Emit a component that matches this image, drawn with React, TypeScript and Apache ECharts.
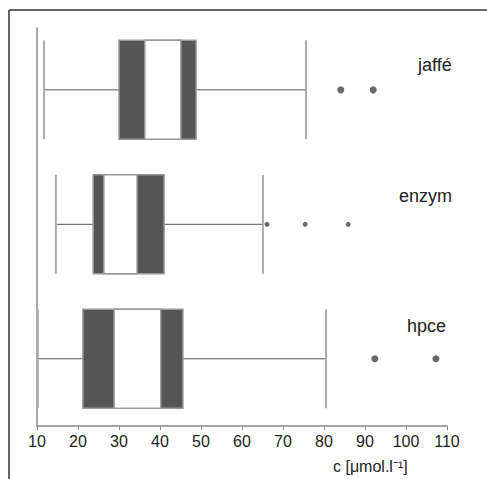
import React, { useEffect, useRef } from "react";
import * as echarts from "echarts";

const categories = ["jaffé", "enzym", "hpce"];
const whiskerLow = [11.7, 14.6, 10.2];
const q1 = [30, 23.7, 21.2];
const ciLow = [36.3, 26.3, 28.8];
const ciHigh = [45.1, 34.4, 40.2];
const q3 = [48.8, 41, 45.6];
const whiskerHigh = [75.6, 65.1, 80.5];
const outliersJaffe = [84.1, 92];
const outliersEnzym = [66.1, 75.4, 85.9];
const outliersHpce = [92.4, 107.3];
const xTicks = [10, 110, 10]; // min, max, interval
const axisTitle = "c [μmol.l⁻¹]";

export default function App() {
  const ref = useRef<HTMLDivElement>(null);
  useEffect(() => {
    if (!ref.current) return;
    const chart = echarts.init(ref.current, undefined, { renderer: "svg" });
    const boxData = categories.map((_, i) => [
      i,
      whiskerLow[i],
      q1[i],
      ciLow[i],
      ciHigh[i],
      q3[i],
      whiskerHigh[i],
    ]);
    const halfH = 0.368;
    const renderItem = (params: any, api: any) => {
      const y = api.value(0);
      const wl = api.value(1), a = api.value(2), cl = api.value(3), ch = api.value(4), b = api.value(5), wh = api.value(6);
      const yc = api.coord([a, y])[1];
      const y1 = api.coord([a, y - halfH])[1];
      const y2 = api.coord([a, y + halfH])[1];
      const top = Math.min(y1, y2);
      const h = Math.abs(y2 - y1);
      const X = (v: number) => api.coord([v, y])[0];
      return {
        type: "group",
        children: [
          { type: "line", shape: { x1: X(wl), y1: yc, x2: X(a), y2: yc }, style: { stroke: "#555", lineWidth: 1 } },
          { type: "line", shape: { x1: X(b), y1: yc, x2: X(wh), y2: yc }, style: { stroke: "#555", lineWidth: 1 } },
          { type: "line", shape: { x1: X(wl), y1: top, x2: X(wl), y2: top + h }, style: { stroke: "#aaa", lineWidth: 2 } },
          { type: "line", shape: { x1: X(wh), y1: top, x2: X(wh), y2: top + h }, style: { stroke: "#aaa", lineWidth: 2 } },
          { type: "rect", shape: { x: X(a), y: top, width: X(b) - X(a), height: h }, style: { fill: "#555", stroke: "#999", lineWidth: 1.5 } },
          { type: "rect", shape: { x: X(cl), y: top, width: X(ch) - X(cl), height: h }, style: { fill: "#fff", stroke: "#999", lineWidth: 1.5 } },
        ],
      };
    };
    const outlierSets = [outliersJaffe, outliersEnzym, outliersHpce];
    const sizes = [7, 5, 7];
    const option: any = {
      animation: false,
      grid: { left: 37, right: 40, top: 28, bottom: 53 },
      xAxis: {
        type: "value",
        min: xTicks[0],
        max: xTicks[1],
        interval: xTicks[2],
        axisLine: { onZero: false, lineStyle: { color: "#888", width: 1.5 } },
        axisTick: { show: true, length: 4, lineStyle: { color: "#888" } },
        axisLabel: { fontSize: 16, color: "#222", margin: 7, fontFamily: "Liberation Sans, Arial, sans-serif" },
        splitLine: { show: false },
      },
      yAxis: {
        type: "value",
        min: -0.46,
        max: 2.5,
        inverse: true,
        axisLine: { show: true, onZero: false, lineStyle: { color: "#aaa", width: 2 } },
        axisTick: { show: false },
        axisLabel: { show: false },
        splitLine: { show: false },
      },
      series: [
        {
          type: "custom",
          renderItem,
          encode: { x: [1, 2, 3, 4, 5, 6], y: 0 },
          data: boxData,
        },
        ...outlierSets.map((vals, i) => ({
          type: "scatter",
          symbol: "circle",
          symbolSize: sizes[i],
          itemStyle: { color: "#444" },
          data: vals.map((v) => [v, i]),
        })),
      ],
      graphic: [
        { type: "line", shape: { x1: 9, y1: 10, x2: 487, y2: 10 }, style: { stroke: "#333", lineWidth: 1.5 } },
        { type: "line", shape: { x1: 9, y1: 10, x2: 9, y2: 479 }, style: { stroke: "#333", lineWidth: 1.5 } },
        { type: "text", x: 418, y: 65, style: { text: categories[0], fontSize: 18, fill: "#222", fontFamily: "Liberation Sans, Arial, sans-serif", textVerticalAlign: "middle" } },
        { type: "text", x: 399, y: 196, style: { text: categories[1], fontSize: 18, fill: "#222", fontFamily: "Liberation Sans, Arial, sans-serif", textVerticalAlign: "middle" } },
        { type: "text", x: 407, y: 326, style: { text: categories[2], fontSize: 18, fill: "#222", fontFamily: "Liberation Sans, Arial, sans-serif", textVerticalAlign: "middle" } },
        { type: "text", x: 333, y: 466, style: { text: axisTitle, fontSize: 16, fill: "#222", fontFamily: "Liberation Sans, Arial, sans-serif", textVerticalAlign: "middle" } },
      ],
    };
    chart.setOption(option);
    return () => chart.dispose();
  }, []);
  return (
    <div
      ref={ref}
      style={{ position: "absolute", left: 0, top: 0, width: 487, height: 479, background: "#fff" }}
    />
  );
}
